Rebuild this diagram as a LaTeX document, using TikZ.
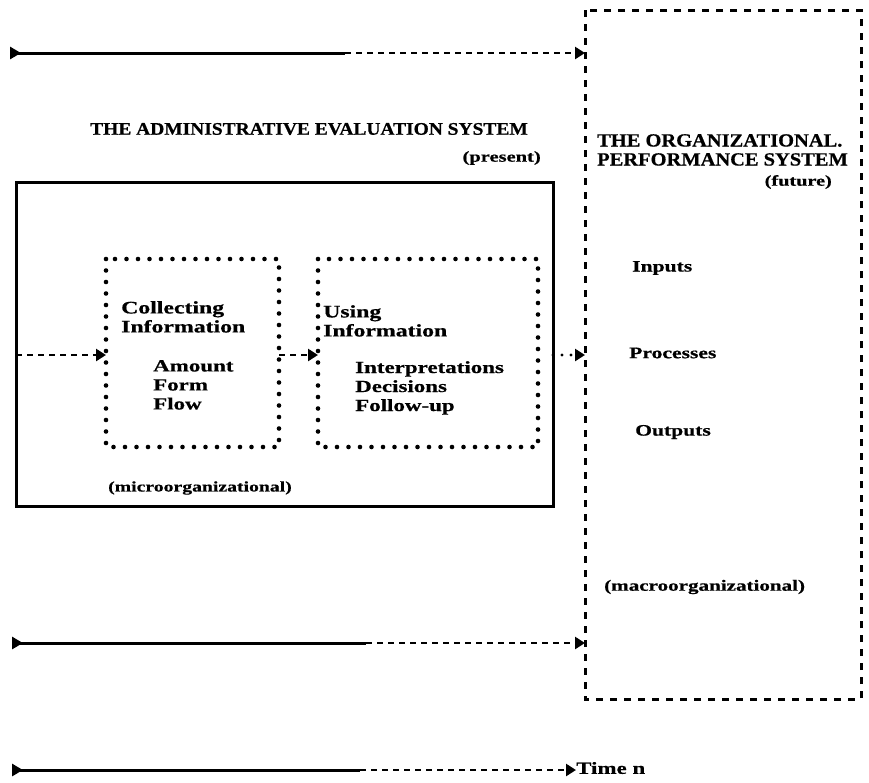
\documentclass[tikz,border=0pt]{standalone}
\usepackage{fontspec}
\setmainfont{Liberation Serif}[FakeStretch=1.35, BoldFeatures={FakeBold=0.6}]
\newfontfamily\capsfont{Liberation Serif}[FakeStretch=1.1, BoldFeatures={FakeBold=0.6}]
\usetikzlibrary{arrows.meta}
\newcommand{\fs}[1]{\fontsize{#1}{19}\selectfont\bfseries}
\tikzset{
  txt/.style={inner sep=0pt, align=left},
  solidbox/.style={draw, line width=3pt},
  dotbox/.style={draw, line width=4.6pt, line cap=round, dash pattern=on 0pt off 11.5pt},
  dashbox/.style={draw, line width=3pt, dash pattern=on 7pt off 7pt},
  dotline/.style={line width=2.8pt, dash pattern=on 6pt off 5pt},
  tailtip/.style={-{Triangle[length=10pt,width=12pt]}},
  tailend/.style={{Triangle[reversed,length=11pt,width=12pt]}-},
  timeline/.style={line width=3pt},
}
\begin{document}
\begin{tikzpicture}[x=1pt,y=-1pt]
\useasboundingbox (0,0) rectangle (869,782);
\fill[white] (0,0) rectangle (869,782);

% right dashed system box
\draw[dashbox] (585,10) rectangle (861,699);
\coordinate (rbw) at (585,0);

% solid present box and dotted boxes
\draw[solidbox] (16,182) rectangle (553,506);
\coordinate (lbw) at (16,355);
\draw[dotbox] (106,259) rectangle (279,447);
\draw[dotbox] (318,259) rectangle (538,447);
\coordinate (b1w) at (106,355);
\coordinate (b1e) at (279,355);
\coordinate (b2w) at (318,355);
\coordinate (be) at (553,355);
\coordinate (rw) at (585,355);

% texts
\node[txt, anchor=west, font=\capsfont\fs{17.7}] (title) at (90,129) {THE ADMINISTRATIVE EVALUATION SYSTEM};
\node[txt, anchor=east, font=\fs{15.2}] (present) at (541,158) {(present)};
\node[txt, anchor=north west, font=\fs{17.6}] (collect) at (121,301) {Collecting\\Information};
\node[txt, anchor=north west, font=\fs{17}] (amount) at (153,360) {Amount\\Form\\Flow};
\node[txt, anchor=north west, font=\fs{17.6}] (using) at (323,305) {Using\\Information};
\node[txt, anchor=north west, font=\fs{17}] (interp) at (355,361) {Interpretations\\Decisions\\Follow-up};
\node[txt, anchor=west, font=\fs{14.6}] (micro) at (108,488) {(microorganizational)};

\node[txt, anchor=north west, font=\capsfont\fs{18.6}] (ops) at (597,134) {THE ORGANIZATIONAL.\\PERFORMANCE SYSTEM};
\node[txt, anchor=east, font=\fs{15}] (future) at (832,182) {(future)};
\node[txt, anchor=west, font=\fs{16}] (inputs) at (632,268) {Inputs};
\node[txt, anchor=west, font=\fs{16}] (proc) at (629,353) {Processes};
\node[txt, anchor=west, font=\fs{16}] (outp) at (635,432) {Outputs};
\node[txt, anchor=west, font=\fs{15.6}] (macro) at (604,587) {(macroorganizational)};

% arrows inside
\draw[dotline, tailtip] (lbw) -- (b1w);
\draw[dotline, tailtip] (b1e) -- (b2w);
\draw[line width=3.2pt, line cap=round, dash pattern=on 0pt off 9pt, tailtip] (be) -- (rw);

% time lines
\coordinate (t1a) at (10,53);
\coordinate (t1b) at (345,53);
\coordinate (t2a) at (12,643);
\coordinate (t2b) at (366,643);
\coordinate (t3a) at (12,770);
\coordinate (t3b) at (360,770);
\node[txt, anchor=west, font=\fs{17}] (timen) at (576,768) {Time n};

\draw[timeline, tailend] (t1a) -- (t1b);
\draw[dotline, tailtip] (t1b) -- (t1b -| rbw);
\draw[timeline, tailend] (t2a) -- (t2b);
\draw[dotline, tailtip] (t2b) -- (t2b -| rbw);
\draw[timeline, tailend] (t3a) -- (t3b);
\draw[dotline, tailtip] (t3b) -- (t3b -| timen.west);
\end{tikzpicture}
\end{document}
